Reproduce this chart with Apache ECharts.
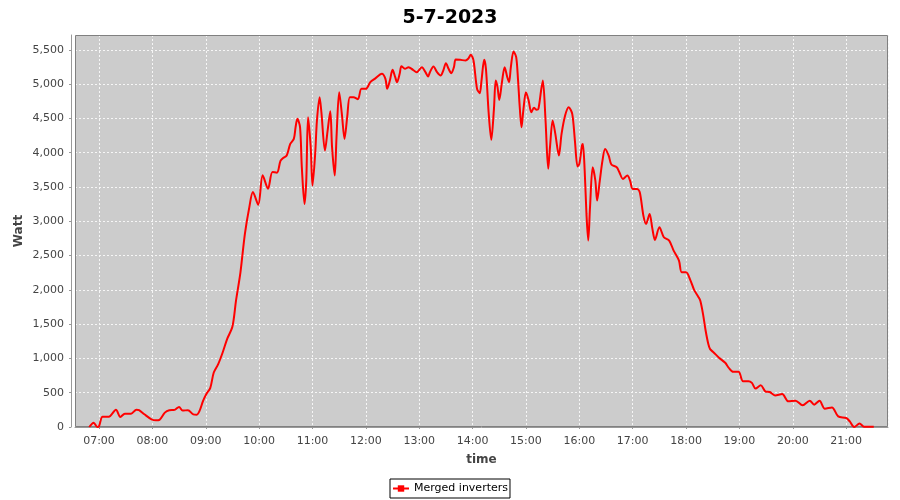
<!DOCTYPE html>
<html>
<head>
<meta charset="utf-8">
<script src="https://cdn.jsdelivr.net/npm/echarts@6/dist/echarts.min.js"></script>
<style>html,body{margin:0;padding:0;background:#fff}#c{width:900px;height:500px}</style>
</head>
<body>
<div id="c"></div>
<script>
const chartTitle = '5-7-2023';
const seriesName = 'Merged inverters';
const times = ['06:49','06:54','06:58','07:00','07:04','07:11','07:19','07:24','07:29','07:36','07:42','07:45','07:51','07:59','08:04','08:08','08:14','08:19','08:25','08:30','08:34','08:40','08:46','08:50','08:53','08:57','09:01','09:05','09:09','09:14','09:19','09:24','09:30','09:34','09:39','09:44','09:49','09:53','09:59','10:04','10:10','10:15','10:20','10:24','10:27','10:31','10:35','10:39','10:41','10:43','10:46','10:48','10:51','10:53','10:55','10:58','11:00','11:03','11:05','11:08','11:10','11:14','11:17','11:20','11:22','11:25','11:27','11:30','11:33','11:36','11:39','11:42','11:46','11:51','11:55','12:00','12:05','12:10','12:18','12:22','12:24','12:27','12:30','12:33','12:35','12:38','12:40','12:44','12:48','12:53','12:57','13:03','13:07','13:10','13:12','13:16','13:20','13:24','13:27','13:30','13:33','13:36','13:39','13:41','13:46','13:52','13:55','13:58','14:01','14:05','14:08','14:10','14:13','14:15','14:18','14:21','14:24','14:26','14:28','14:30','14:33','14:36','14:39','14:41','14:43','14:46','14:49','14:51','14:53','14:55','14:57','15:00','15:03','15:06','15:09','15:12','15:14','15:17','15:19','15:22','15:25','15:27','15:30','15:33','15:37','15:40','15:44','15:48','15:52','15:55','15:58','16:00','16:03','16:04','16:06','16:08','16:10','16:12','16:15','16:18','16:20','16:23','16:26','16:29','16:33','16:36','16:42','16:45','16:49','16:54','16:57','17:00','17:05','17:08','17:12','17:15','17:19','17:22','17:25','17:30','17:35','17:41','17:46','17:52','17:55','18:00','18:05','18:09','18:14','18:16','18:19','18:22','18:25','18:27','18:31','18:37','18:44','18:48','18:53','18:59','19:04','19:10','19:14','19:18','19:24','19:29','19:34','19:40','19:48','19:55','20:03','20:11','20:19','20:24','20:30','20:36','20:44','20:51','21:00','21:04','21:09','21:15','21:20','21:31'];
const watts = [0,63,0,10,150,150,250,146,195,195,253,245,185,112,98,105,210,245,250,292,240,245,185,180,234,380,487,566,794,917,1086,1282,1465,1842,2256,2817,3206,3425,3241,3670,3475,3718,3708,3880,3924,3958,4128,4201,4372,4493,4372,3788,3253,3593,4518,4080,3520,3983,4469,4809,4590,4031,4323,4605,4080,3666,4226,4882,4566,4201,4518,4809,4809,4780,4931,4931,5028,5077,5150,5077,4931,5052,5208,5101,5028,5150,5262,5223,5247,5208,5174,5247,5174,5111,5174,5257,5174,5125,5198,5305,5223,5160,5247,5359,5354,5344,5369,5427,5344,4931,4868,5052,5354,5223,4590,4187,4639,5052,4955,4770,5028,5247,5101,5028,5247,5476,5393,5077,4663,4372,4615,4882,4761,4590,4654,4625,4639,4907,5052,4469,3764,4080,4469,4274,3958,4274,4542,4663,4566,4177,3800,3837,4104,4128,3739,3107,2718,3204,3788,3593,3301,3593,3885,4055,3958,3827,3788,3715,3618,3666,3593,3471,3471,3420,3083,2961,3107,2900,2728,2913,2767,2718,2572,2427,2257,2257,2135,2000,1893,1840,1650,1403,1209,1136,1087,1010,937,863,805,805,667,667,643,560,608,520,510,461,481,374,384,316,384,326,383,267,286,155,131,82,0,50,5,5];
const axisStart = '06:33';
const axisEnd = '21:47';
const yMax = 5716;
const yInterval = 500;
const xAxisName = 'time';
const yAxisName = 'Watt';

function ts(hm) {
  const p = hm.split(':');
  return new Date(2023, 6, 5, +p[0], +p[1], 0).getTime();
}
const data = times.map((t, i) => [ts(t), watts[i]]);
const FONT = 'DejaVu Sans';
const G = {left: 75, right: 12, top: 35, bottom: 73};
const chart = echarts.init(document.getElementById('c'), null, {renderer: 'canvas'});
chart.setOption({
  animation: false,
  backgroundColor: '#ffffff',
  title: {
    text: chartTitle, left: 'center', top: 4,
    textStyle: {fontFamily: FONT, fontSize: 19, fontWeight: 'bold', color: '#000'}
  },
  legend: {
    data: [seriesName], left: 'center', bottom: 2,
    borderColor: '#000', borderWidth: 1, padding: [4, 2], borderRadius: 0,
    itemWidth: 16, itemHeight: 8,
    textStyle: {fontFamily: FONT, fontSize: 11, color: '#000'}
  },
  grid: Object.assign({show: true, backgroundColor: '#cccccc', borderWidth: 0}, G),
  graphic: [{
    type: 'rect', z: 1, silent: true,
    shape: {x: G.left + 0.5, y: G.top + 0.5, width: 900 - G.left - G.right - 1, height: 500 - G.top - G.bottom - 1},
    style: {fill: null, stroke: '#808080', lineWidth: 1}
  }],
  xAxis: {
    type: 'time',
    min: ts(axisStart), max: ts(axisEnd),
    splitNumber: 15, minInterval: 3600000, maxInterval: 3600000,
    offset: 4,
    name: xAxisName, nameLocation: 'middle', nameGap: 23, nameMoveOverlap: false,
    nameTextStyle: {fontFamily: FONT, fontSize: 12, fontWeight: 'bold', color: '#444'},
    axisLine: {show: true, lineStyle: {color: '#999', width: 1}},
    axisTick: {show: true, length: 2, lineStyle: {color: '#999'}},
    axisLabel: {
      fontFamily: FONT, fontSize: 11, color: '#444', margin: 5,
      showMinLabel: false, showMaxLabel: false, hideOverlap: false,
      formatter: v => echarts.time.format(v, '{HH}:{mm}', false)
    },
    splitLine: {show: true, lineStyle: {color: '#f6f6f6', type: [2, 2], width: 1}}
  },
  yAxis: {
    type: 'value', min: 0, max: yMax, interval: yInterval,
    offset: 4,
    name: yAxisName, nameLocation: 'middle', nameGap: 46, nameRotate: 90, nameMoveOverlap: false,
    nameTextStyle: {fontFamily: FONT, fontSize: 12, fontWeight: 'bold', color: '#444'},
    axisLine: {show: true, lineStyle: {color: '#999', width: 1}},
    axisTick: {show: true, length: 2, lineStyle: {color: '#999'}},
    axisLabel: {fontFamily: FONT, fontSize: 11, color: '#444', margin: 7, showMaxLabel: false},
    splitLine: {show: true, lineStyle: {color: '#f6f6f6', type: [2, 2], width: 1}}
  },
  series: [{
    name: seriesName, type: 'line', data: data, z: 3,
    showSymbol: false, symbol: 'rect', symbolSize: 3,
    smooth: 0.3,
    lineStyle: {color: '#ff0000', width: 2},
    itemStyle: {color: '#ff0000'}
  }]
});
</script>
</body>
</html>
